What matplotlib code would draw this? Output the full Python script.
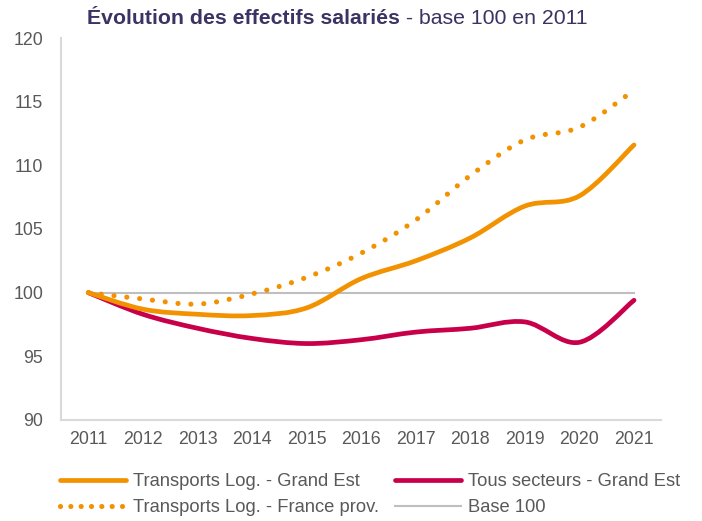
import matplotlib
matplotlib.use("Agg")
import matplotlib.pyplot as plt
from matplotlib.path import Path
from matplotlib.patches import PathPatch
from matplotlib.lines import Line2D

plt.rcParams['font.family'] = ['Liberation Sans', 'DejaVu Sans']

# data
years = [2011, 2012, 2013, 2014, 2015, 2016, 2017, 2018, 2019, 2020, 2021]
transports_ge = [100, 98.7, 98.3, 98.2, 98.8, 101.1, 102.5, 104.3, 106.8, 107.6, 111.6]
tous_secteurs_ge = [100, 98.3, 97.2, 96.4, 96.0, 96.3, 96.9, 97.2, 97.7, 96.1, 99.4]
transports_fp = [100, 99.5, 99.1, 99.9, 101.2, 103.1, 105.7, 109.2, 112.0, 113.0, 115.9]
base_100 = [100] * len(years)

orange = '#F39200'
crimson = '#C8004A'
grey = '#BFBFBF'
text_col = '#595959'
dots = (0, (0.01, 2.5))


def smooth_path(xs, ys, t=1 / 6):
    # smoothed line like the spreadsheet one: bezier segments through the points
    verts = [(xs[0], ys[0])]
    codes = [Path.MOVETO]
    n = len(xs)
    for i in range(n - 1):
        x0, y0 = xs[max(i - 1, 0)], ys[max(i - 1, 0)]
        x1, y1 = xs[i], ys[i]
        x2, y2 = xs[i + 1], ys[i + 1]
        x3, y3 = xs[min(i + 2, n - 1)], ys[min(i + 2, n - 1)]
        c1 = (x1 + (x2 - x0) * t, y1 + (y2 - y0) * t)
        c2 = (x2 - (x3 - x1) * t, y2 - (y3 - y1) * t)
        verts += [c1, c2, (x2, y2)]
        codes += [Path.CURVE4] * 3
    return Path(verts, codes)


fig = plt.figure(figsize=(7.02, 5.21), dpi=100)
ax = fig.add_axes([0.087, 0.194, 0.855, 0.733])

ax.plot(years, base_100, color=grey, lw=1.5, zorder=1)

ax.add_patch(PathPatch(smooth_path(years, tous_secteurs_ge), fill=False,
                       edgecolor=crimson, lw=3.4, capstyle='round', zorder=2))
ax.add_patch(PathPatch(smooth_path(years, transports_ge), fill=False,
                       edgecolor=orange, lw=3.4, capstyle='round', zorder=3))
ax.add_patch(PathPatch(smooth_path(years, transports_fp), fill=False,
                       edgecolor=orange, lw=3.7, linestyle=dots,
                       capstyle='round', zorder=3))

ax.set_xlim(2010.5, 2021.5)
ax.set_ylim(90, 120)
ax.set_xticks(years)
ax.set_yticks(range(90, 121, 5))
ax.tick_params(length=0, labelsize=12.8, labelcolor=text_col, pad=8)
ax.tick_params(axis='y', pad=13)
for s in ['top', 'right']:
    ax.spines[s].set_visible(False)
for s in ['left', 'bottom']:
    ax.spines[s].set_color('#D9D9D9')
    ax.spines[s].set_linewidth(1.5)

# legend
handles = [
    Line2D([], [], color=orange, lw=3.4, solid_capstyle='round'),
    Line2D([], [], color=orange, lw=3.7, linestyle=(0, (0.01, 2.0)), dash_capstyle='round'),
    Line2D([], [], color=crimson, lw=3.4, solid_capstyle='round'),
    Line2D([], [], color=grey, lw=1.5),
]
labels = ['Transports Log. - Grand Est', 'Transports Log. - France prov.',
          'Tous secteurs - Grand Est', 'Base 100']
leg = fig.legend(handles, labels, ncol=2, loc='upper left',
                 bbox_to_anchor=(60 / 702, 1 - 473 / 521),
                 frameon=False, fontsize=13.2, handlelength=3.6, handletextpad=0.4,
                 columnspacing=0.85, labelspacing=0.5, borderpad=0, borderaxespad=0)
for t in leg.get_texts():
    t.set_color(text_col)

# title in two parts
title_col = '#3C3263'
t1 = fig.text(0.124, 0.965, 'Évolution des effectifs salariés', fontsize=15.3,
              fontweight='bold', color=title_col, va='center')
fig.canvas.draw()
bb = t1.get_window_extent()
fig.text(bb.x1 / fig.bbox.width, 0.965, ' - base 100 en 2011', fontsize=15.3,
         color=title_col, va='center')

fig.savefig('out.png', dpi=100)
